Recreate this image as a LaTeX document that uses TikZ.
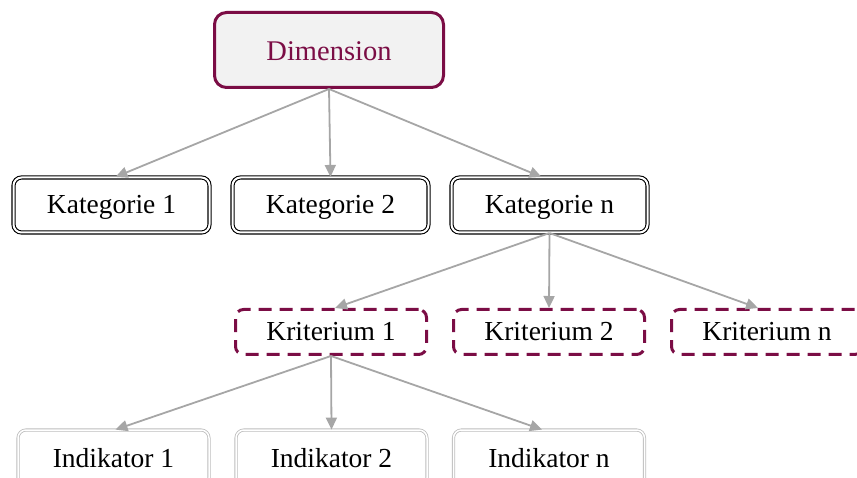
\documentclass[tikz,border=0pt]{standalone}
\usepackage{fontspec}
\setmainfont{Liberation Serif}
\usetikzlibrary{arrows.meta}
\definecolor{maroon}{HTML}{7B0D45}
\definecolor{boxgray}{HTML}{F2F2F2}
\definecolor{arrowgray}{HTML}{A6A6A6}
\definecolor{lightline}{HTML}{BDBDBD}
\begin{document}
\begin{tikzpicture}[x=1pt,y=-1pt,
  lbl/.style={font=\fontsize{27.5}{32}\selectfont, inner sep=0pt, text height=18pt, text depth=0pt},
  dimbox/.style={lbl, font=\fontsize{28.5}{32}\selectfont, text height=21pt, draw=maroon, line width=3pt, fill=boxgray, rounded corners=12pt,
    minimum width=229pt, minimum height=75pt, text=maroon},
  katbox/.style={lbl, draw=black, double=white, double distance=2pt, line width=1.1pt,
    rounded corners=8pt, minimum width=196pt, minimum height=55pt},
  kribox/.style={lbl, draw=maroon, line width=3pt, dash pattern=on 13pt off 8pt,
    rounded corners=8pt, minimum width=191pt, minimum height=45pt},
  indbox/.style={lbl, draw=lightline, double=white, double distance=1.5pt, line width=0.8pt,
    rounded corners=8pt, minimum width=191pt, minimum height=56pt},
  conn/.style={draw=arrowgray, line width=1.8pt, -{Triangle[length=12pt,width=11pt]}}
]
\clip (0,0) rectangle (857,478);
\useasboundingbox (0,0) rectangle (857,478);

\node[dimbox] (dim) at (329,50) {Dimension};

\node[katbox] (k1) at (111.5,205) {Kategorie 1};
\node[katbox] (k2) at (330.5,205) {Kategorie 2};
\node[katbox] (kn) at (549.5,205) {Kategorie n};

\node[kribox] (c1) at (331,332) {Kriterium 1};
\node[kribox] (c2) at (549,332) {Kriterium 2};
\node[kribox] (cn) at (767,332) {Kriterium n};

\node[indbox] (i1) at (113.5,458) {Indikator 1};
\node[indbox] (i2) at (331.5,458) {Indikator 2};
\node[indbox] (in) at (549,458) {Indikator n};

\draw[conn] (dim.south) -- ([xshift=4pt]k1.north);
\draw[conn] (dim.south) -- (k2.north);
\draw[conn] (dim.south) -- ([xshift=-8pt]kn.north);

\draw[conn] (kn.south) -- ([xshift=4pt]c1.north);
\draw[conn] (kn.south) -- (c2.north);
\draw[conn] (kn.south) -- ([xshift=-9pt]cn.north);

\draw[conn] (c1.south) -- ([xshift=2pt]i1.north);
\draw[conn] (c1.south) -- (i2.north);
\draw[conn] (c1.south) -- ([xshift=-7pt]in.north);
\end{tikzpicture}
\end{document}
